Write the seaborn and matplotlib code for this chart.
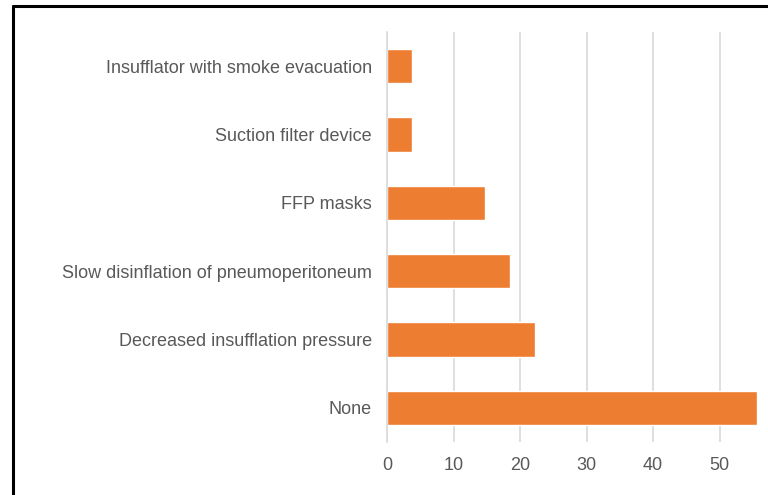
import matplotlib
matplotlib.use("Agg")
import matplotlib.pyplot as plt
import seaborn as sns
import pandas as pd
from matplotlib.lines import Line2D

categories = ["Insufflator with smoke evacuation", "Suction filter device", "FFP masks",
              "Slow disinflation of pneumoperitoneum", "Decreased insufflation pressure", "None"]
values = [3.7, 3.7, 14.8, 18.5, 22.2, 55.6]
xticks = [0, 10, 20, 30, 40, 50]

df = pd.DataFrame({"cat": categories, "val": values})

sns.set_style("white")
plt.rcParams['font.family'] = ['Liberation Sans', 'DejaVu Sans']

fig = plt.figure(figsize=(7.68, 4.95), dpi=100)
ax = fig.add_axes([387/768, 1-442/495, (757-387)/768, (442-32)/495])
sns.barplot(data=df, x="val", y="cat", order=categories, color="#ED7D31",
            saturation=1, width=0.5, ax=ax)
ax.set_xlim(0, 55.6)
ax.set_ylim(5.5, -0.5)
ax.set_xticks(xticks)
ax.xaxis.grid(True, color="#D9D9D9", linewidth=1.2)
ax.set_axisbelow(True)
ax.set_xlabel("")
ax.set_ylabel("")
for s in ["top", "right", "bottom"]:
    ax.spines[s].set_visible(False)
ax.spines["left"].set_color("#D9D9D9")
ax.spines["left"].set_linewidth(1.2)
ax.tick_params(axis="both", length=0, labelsize=13, colors="#595959")
ax.tick_params(axis="x", pad=11)
ax.tick_params(axis="y", pad=11)

fig.add_artist(Line2D([13/768, 13/768], [0, 1-6/495], color="black", linewidth=2.2, transform=fig.transFigure))
fig.add_artist(Line2D([13/768, 1], [1-6/495, 1-6/495], color="black", linewidth=2.2, transform=fig.transFigure))

fig.savefig("out.png", dpi=100)
